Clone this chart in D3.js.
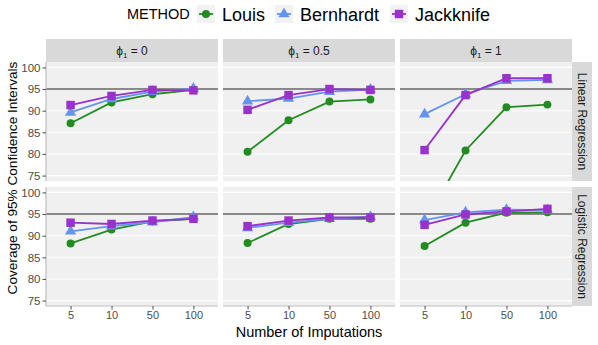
<!DOCTYPE html>
<html>
<head>
<meta charset="utf-8">
<script src="https://cdn.jsdelivr.net/npm/d3@7"></script>
<style>
  body { margin: 0; background: #fff; }
  svg { font-family: "Liberation Sans", Arial, sans-serif; }
</style>
</head>
<body>
<div id="viz"></div>
<script>
// categories
var imputations = ["5", "10", "50", "100"];
var phis = ["0", "0.5", "1"];
var models = ["Linear Regression", "Logistic Regression"];
var methods = ["Louis", "Bernhardt", "Jackknife"];
var yTicks = [75, 80, 85, 90, 95, 100];

// coverage values, one row per phi (0, 0.5, 1), columns = imputations
var louisLinear = [[87.1, 91.9, 93.8, 94.8], [80.5, 87.8, 92.1, 92.6], [64.0, 80.8, 90.8, 91.4]];
var bernLinear = [[89.6, 92.7, 94.4, 95.1], [92.2, 92.8, 94.4, 94.9], [89.2, 93.8, 96.9, 97.1]];
var jackLinear = [[91.3, 93.4, 94.8, 94.7], [90.2, 93.6, 95.0, 94.8], [80.9, 93.6, 97.5, 97.5]];

var louisLogistic = [[88.2, 91.4, 93.3, 93.9], [88.3, 92.7, 93.9, 93.9], [87.6, 93.0, 95.3, 95.4]];
var bernLogistic = [[91.0, 92.2, 93.1, 94.3], [91.8, 93.0, 93.9, 94.4], [93.6, 95.4, 96.0, 95.9]];
var jackLogistic = [[93.0, 92.7, 93.5, 93.9], [92.2, 93.5, 94.2, 94.2], [92.5, 94.9, 95.6, 96.2]];

var values = {
  "Linear Regression": { Louis: louisLinear, Bernhardt: bernLinear, Jackknife: jackLinear },
  "Logistic Regression": { Louis: louisLogistic, Bernhardt: bernLogistic, Jackknife: jackLogistic }
};

var colors = { Louis: "#228B22", Bernhardt: "#6495ED", Jackknife: "#9932CC" };
var shapes = { Louis: d3.symbolCircle, Bernhardt: d3.symbolTriangle, Jackknife: d3.symbolSquare };
var sizes = { Louis: 50, Bernhardt: 55, Jackknife: 72 };

var W = 598, H = 345;
var panelLeft = 46, panelW = 172, gapX = 5;
var stripTop = 39, stripH = 23, panelH = 119, gapY = 6;
var rightStripW = 20;

var svg = d3.select("#viz").append("svg")
  .attr("width", W).attr("height", H);

var y = d3.scaleLinear().domain([73.75, 101.25]).range([panelH, 0]);
var x = d3.scalePoint().domain(imputations).range([0, panelW]).padding(0.6);

var defs = svg.append("defs");
defs.append("clipPath").attr("id", "panelclip")
  .append("rect").attr("width", panelW).attr("height", panelH);

var line = d3.line()
  .x(function (d) { return x(d.k); })
  .y(function (d) { return y(d.v); });

models.forEach(function (model, r) {
  var top = stripTop + stripH + r * (panelH + gapY);
  phis.forEach(function (phi, c) {
    var left = panelLeft + c * (panelW + gapX);
    var g = svg.append("g").attr("transform", "translate(" + left + "," + top + ")");
    g.append("rect").attr("width", panelW).attr("height", panelH).attr("fill", "#F0F0F0");
    g.selectAll(".grid").data(yTicks).enter().append("line")
      .attr("x1", 0).attr("x2", panelW)
      .attr("y1", function (d) { return y(d); }).attr("y2", function (d) { return y(d); })
      .attr("stroke", "#fff").attr("stroke-width", 1.1);
    g.append("line")
      .attr("x1", 0).attr("x2", panelW)
      .attr("y1", y(95)).attr("y2", y(95))
      .attr("stroke", "#1A1A1A").attr("stroke-width", 1.1);

    var plot = g.append("g").attr("clip-path", "url(#panelclip)");
    methods.forEach(function (m) {
      var pts = values[model][m][c].map(function (v, i) { return { k: imputations[i], v: v }; });
      plot.append("path").datum(pts)
        .attr("d", line).attr("fill", "none")
        .attr("stroke", colors[m]).attr("stroke-width", 1.8);
      plot.selectAll(".pt-" + m).data(pts).enter().append("path")
        .attr("d", d3.symbol().type(shapes[m]).size(sizes[m]))
        .attr("transform", function (d) { return "translate(" + x(d.k) + "," + y(d.v) + ")"; })
        .attr("fill", colors[m]);
    });

    // strip on top
    if (r === 0) {
      svg.append("rect").attr("x", left).attr("y", stripTop)
        .attr("width", panelW).attr("height", stripH).attr("fill", "#D9D9D9");
      var st = svg.append("text").attr("x", left + panelW / 2).attr("y", stripTop + stripH / 2 + 4)
        .attr("text-anchor", "middle").attr("font-size", 12).attr("fill", "#1A1A1A");
      st.append("tspan").text("\u03D5");
      st.append("tspan").attr("font-size", 8).attr("dy", 3).text("1");
      st.append("tspan").attr("dy", -3).text(" = " + phi);
    }

    // y axis on first column
    if (c === 0) {
      g.append("line").attr("x1", 0).attr("x2", 0).attr("y1", 0).attr("y2", panelH)
        .attr("stroke", "#BEBEBE").attr("stroke-width", 1.2);
      var ya = g.append("g").call(d3.axisLeft(y).tickValues(yTicks).tickSize(3.5).tickPadding(2));
      ya.select(".domain").remove();
      ya.selectAll(".tick line").attr("stroke", "#4D4D4D");
      ya.selectAll(".tick text").attr("fill", "#4D4D4D").attr("font-size", 11.5)
        .attr("font-family", "Liberation Sans, Arial, sans-serif");
    }

    // x axis on bottom row
    if (r === models.length - 1) {
      g.append("line").attr("x1", 0).attr("x2", panelW).attr("y1", panelH).attr("y2", panelH)
        .attr("stroke", "#BEBEBE").attr("stroke-width", 1.2);
      var xa = g.append("g").attr("transform", "translate(0," + panelH + ")")
        .call(d3.axisBottom(x).tickSize(3.5).tickPadding(1.5));
      xa.select(".domain").remove();
      xa.selectAll(".tick line").attr("stroke", "#4D4D4D");
      xa.selectAll(".tick text").attr("fill", "#4D4D4D").attr("font-size", 11)
        .attr("font-family", "Liberation Sans, Arial, sans-serif");
    }
  });

  // right strip
  var rx = panelLeft + 3 * panelW + 2 * gapX;
  svg.append("rect").attr("x", rx).attr("y", top)
    .attr("width", rightStripW).attr("height", panelH).attr("fill", "#D9D9D9");
  svg.append("text")
    .attr("transform", "translate(" + (rx + rightStripW / 2 - 4) + "," + (top + panelH / 2) + ") rotate(90)")
    .attr("text-anchor", "middle").attr("font-size", 12).attr("fill", "#1A1A1A")
    .text(model);
});

// axis titles
var plotCenterX = panelLeft + (3 * panelW + 2 * gapX) / 2;
svg.append("text").attr("x", plotCenterX).attr("y", 337)
  .attr("text-anchor", "middle").attr("font-size", 14.5).attr("fill", "#000")
  .text("Number of Imputations");
svg.append("text")
  .attr("transform", "translate(17,178) rotate(-90)")
  .attr("text-anchor", "middle").attr("font-size", 13.6).attr("fill", "#000")
  .text("Coverage of 95% Confidence Intervals");

// legend
var legend = svg.append("g");
legend.append("text").attr("x", 127).attr("y", 19).attr("font-size", 14.5).attr("fill", "#000").text("METHOD");
var keyX = [197, 275, 390];
methods.forEach(function (m, i) {
  var k = legend.append("g").attr("transform", "translate(" + keyX[i] + ",5)");
  k.append("rect").attr("width", 18).attr("height", 18).attr("fill", "#F2F2F2");
  k.append("line").attr("x1", 2).attr("x2", 16).attr("y1", 9).attr("y2", 9)
    .attr("stroke", colors[m]).attr("stroke-width", 1.8);
  k.append("path").attr("d", d3.symbol().type(shapes[m]).size(sizes[m]))
    .attr("transform", "translate(9,9)").attr("fill", colors[m]);
  legend.append("text").attr("x", keyX[i] + 25).attr("y", 20.5)
    .attr("font-size", 18).attr("fill", "#000").text(m);
});
</script>
</body>
</html>
